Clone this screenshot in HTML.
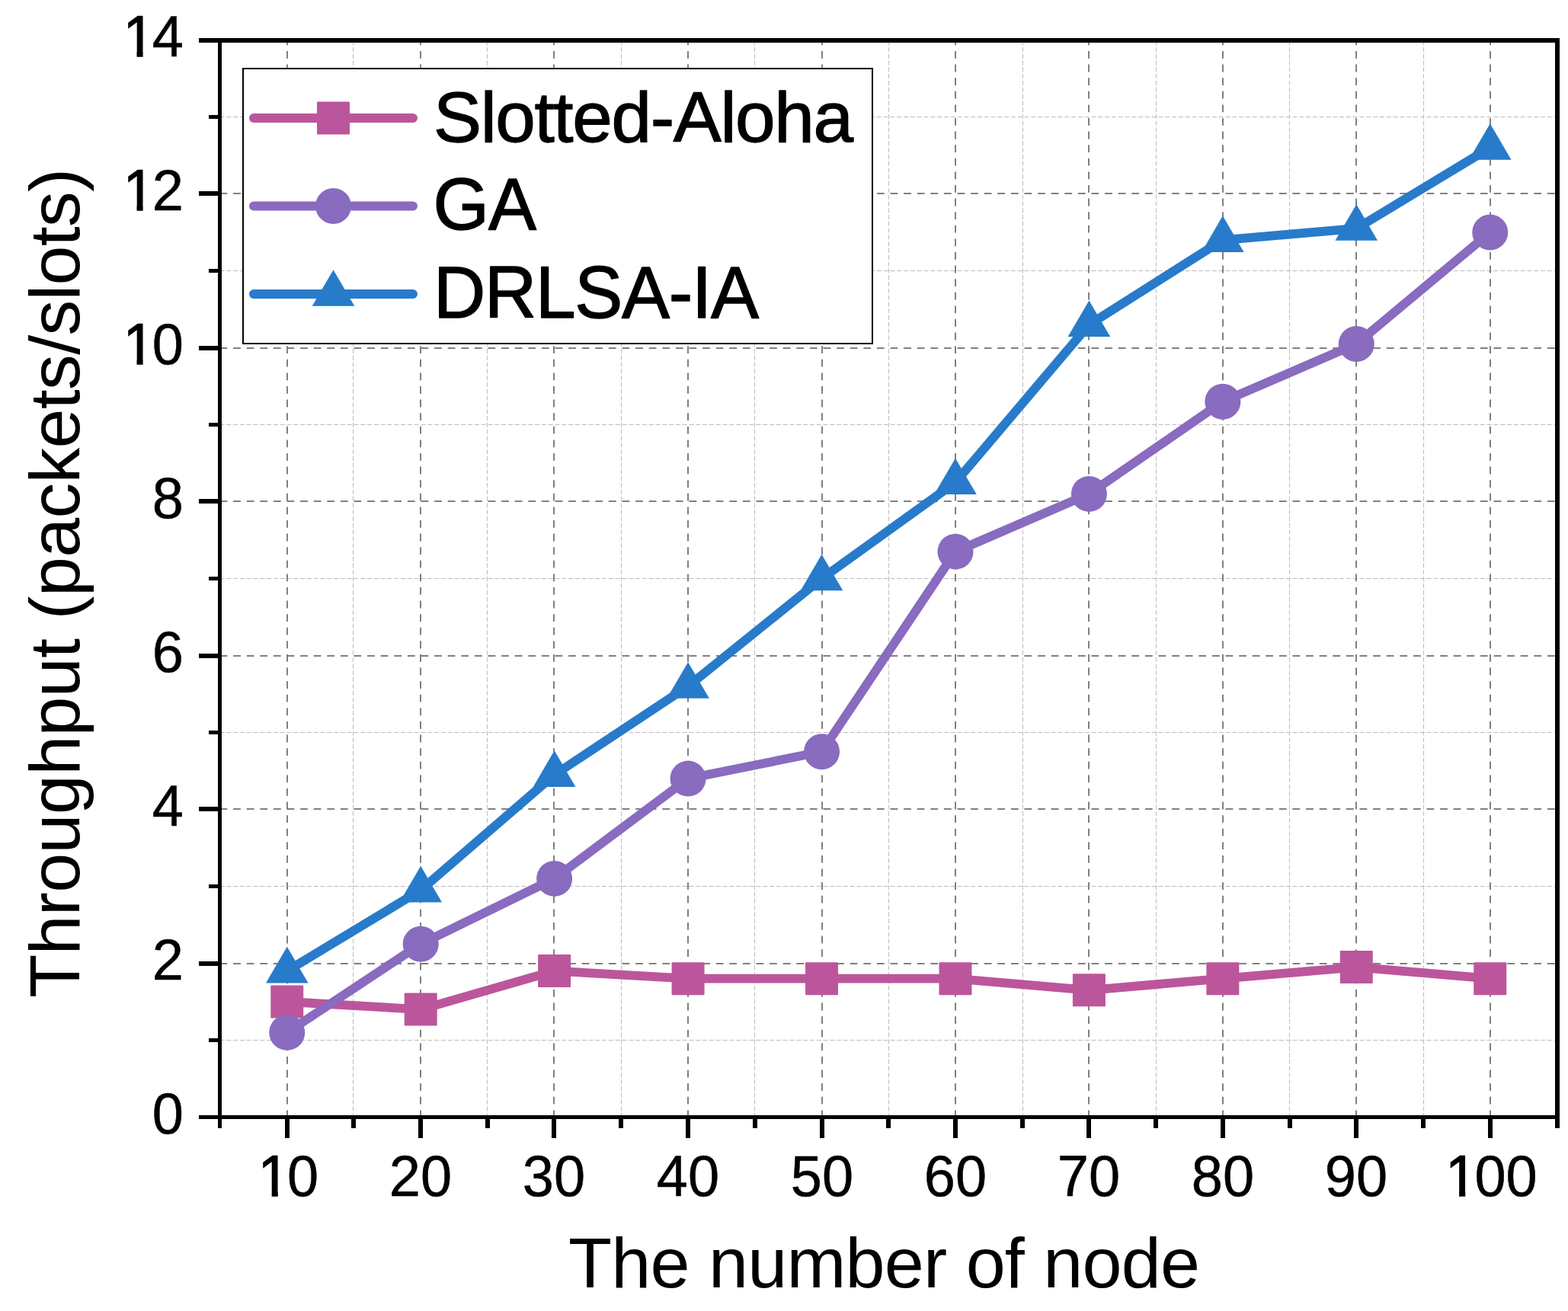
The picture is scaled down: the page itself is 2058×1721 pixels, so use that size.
<!DOCTYPE html>
<html><head><meta charset="utf-8"><title>Throughput vs. the number of node</title>
<style>
html,body{margin:0;padding:0;background:#fff;}
body{width:2058px;height:1721px;overflow:hidden;}
svg{display:block;}
</style></head><body>
<svg width="2058" height="1721" viewBox="0 0 2058 1721">
<rect x="0" y="0" width="2058" height="1721" fill="#fff"/>
<path d="M463.5 1467.2V56M639.5 1467.2V56M815.5 1467.2V56M990.5 1467.2V56M1166.5 1467.2V56M1342.5 1467.2V56M1517.5 1467.2V56M1692.5 1467.2V56M1868.5 1467.2V56" stroke="#BCBCBC" stroke-width="1" stroke-dasharray="6 2.8" fill="none"/>
<path d="M288.5 1365.5H2041M288.5 1163.5H2041M288.5 961.5H2041M288.5 759.5H2041M288.5 557.5H2041M288.5 355.5H2041M288.5 153.5H2041" stroke="#BCBCBC" stroke-width="1" stroke-dasharray="6 2.8" fill="none"/>
<path d="M377 1467.2V56M552 1467.2V56M727 1467.2V56M903 1467.2V56M1079 1467.2V56M1254 1467.2V56M1429 1467.2V56M1605 1467.2V56M1780 1467.2V56M1956 1467.2V56" stroke="#808080" stroke-width="2" stroke-dasharray="9.8 7.8" fill="none"/>
<path d="M288.5 1265H2041M288.5 1062H2041M288.5 861H2041M288.5 658H2041M288.5 457H2041M288.5 254H2041" stroke="#808080" stroke-width="2" stroke-dasharray="9.8 7.8" fill="none"/>
<polyline points="376.75,1315.00 552.19,1325.10 727.64,1274.60 903.08,1284.70 1078.53,1284.70 1253.97,1284.70 1429.41,1299.85 1604.86,1284.70 1780.30,1269.55 1955.75,1284.70" fill="none" stroke="#BC569C" stroke-width="11.8" stroke-linejoin="round" stroke-linecap="round"/>
<rect x="355.25" y="1293.50" width="43" height="43" rx="1.2" fill="#BC569C"/>
<rect x="530.69" y="1303.60" width="43" height="43" rx="1.2" fill="#BC569C"/>
<rect x="706.14" y="1253.10" width="43" height="43" rx="1.2" fill="#BC569C"/>
<rect x="881.58" y="1263.20" width="43" height="43" rx="1.2" fill="#BC569C"/>
<rect x="1057.03" y="1263.20" width="43" height="43" rx="1.2" fill="#BC569C"/>
<rect x="1232.47" y="1263.20" width="43" height="43" rx="1.2" fill="#BC569C"/>
<rect x="1407.91" y="1278.35" width="43" height="43" rx="1.2" fill="#BC569C"/>
<rect x="1583.36" y="1263.20" width="43" height="43" rx="1.2" fill="#BC569C"/>
<rect x="1758.80" y="1248.05" width="43" height="43" rx="1.2" fill="#BC569C"/>
<rect x="1934.25" y="1263.20" width="43" height="43" rx="1.2" fill="#BC569C"/>
<polyline points="376.75,1355.40 552.19,1239.25 727.64,1153.40 903.08,1022.10 1078.53,986.75 1253.97,724.15 1429.41,648.40 1604.86,527.20 1780.30,451.45 1955.75,305.00" fill="none" stroke="#896BBF" stroke-width="11.8" stroke-linejoin="round" stroke-linecap="round"/>
<circle cx="376.75" cy="1355.40" r="23.5" fill="#896BBF"/>
<circle cx="552.19" cy="1239.25" r="23.5" fill="#896BBF"/>
<circle cx="727.64" cy="1153.40" r="23.5" fill="#896BBF"/>
<circle cx="903.08" cy="1022.10" r="23.5" fill="#896BBF"/>
<circle cx="1078.53" cy="986.75" r="23.5" fill="#896BBF"/>
<circle cx="1253.97" cy="724.15" r="23.5" fill="#896BBF"/>
<circle cx="1429.41" cy="648.40" r="23.5" fill="#896BBF"/>
<circle cx="1604.86" cy="527.20" r="23.5" fill="#896BBF"/>
<circle cx="1780.30" cy="451.45" r="23.5" fill="#896BBF"/>
<circle cx="1955.75" cy="305.00" r="23.5" fill="#896BBF"/>
<polyline points="376.75,1274.60 552.19,1168.55 727.64,1017.05 903.08,900.90 1078.53,759.50 1253.97,633.25 1429.41,426.20 1604.86,315.10 1780.30,299.95 1955.75,193.90" fill="none" stroke="#287BCA" stroke-width="11.8" stroke-linejoin="round" stroke-linecap="round"/>
<path d="M376.75 1242.87L404.55 1290.47L348.95 1290.47Z" fill="#287BCA"/>
<path d="M552.19 1136.82L579.99 1184.42L524.39 1184.42Z" fill="#287BCA"/>
<path d="M727.64 985.32L755.44 1032.92L699.84 1032.92Z" fill="#287BCA"/>
<path d="M903.08 869.17L930.88 916.77L875.28 916.77Z" fill="#287BCA"/>
<path d="M1078.53 727.77L1106.33 775.37L1050.73 775.37Z" fill="#287BCA"/>
<path d="M1253.97 601.52L1281.77 649.12L1226.17 649.12Z" fill="#287BCA"/>
<path d="M1429.41 394.47L1457.21 442.07L1401.61 442.07Z" fill="#287BCA"/>
<path d="M1604.86 283.37L1632.66 330.97L1577.06 330.97Z" fill="#287BCA"/>
<path d="M1780.30 268.22L1808.10 315.82L1752.50 315.82Z" fill="#287BCA"/>
<path d="M1955.75 162.17L1983.55 209.77L1927.95 209.77Z" fill="#287BCA"/>
<rect x="319" y="90" width="826" height="361" fill="#fff" stroke="#000" stroke-width="2"/>
<line x1="333" y1="155.0" x2="542" y2="155.0" stroke="#BC569C" stroke-width="12" stroke-linecap="round"/>
<rect x="416.00" y="133.50" width="43" height="43" rx="1.2" fill="#BC569C"/>
<line x1="333" y1="270.5" x2="542" y2="270.5" stroke="#896BBF" stroke-width="12" stroke-linecap="round"/>
<circle cx="437.50" cy="270.50" r="23.5" fill="#896BBF"/>
<line x1="333" y1="385.9" x2="542" y2="385.9" stroke="#287BCA" stroke-width="12" stroke-linecap="round"/>
<path d="M437.50 354.17L465.30 401.77L409.70 401.77Z" fill="#287BCA"/>
<text transform="translate(569.00,186.30) scale(1,0.985)" x="0" y="0" font-family="'Liberation Sans', Arial, sans-serif" font-size="94.5" stroke="#000" stroke-width="1.3" stroke-linejoin="round" textLength="551.00" lengthAdjust="spacing">Slotted-Aloha</text>
<text transform="translate(568.60,301.10) scale(1,1.021)" x="0" y="0" font-family="'Liberation Sans', Arial, sans-serif" font-size="94.5" stroke="#000" stroke-width="1.4" stroke-linejoin="round" textLength="135.40" lengthAdjust="spacing">GA</text>
<text transform="translate(569.00,417.20) scale(1,1.024)" x="0" y="0" font-family="'Liberation Sans', Arial, sans-serif" font-size="94.5" stroke="#000" stroke-width="1.4" stroke-linejoin="round" textLength="427.00" lengthAdjust="spacing">DRLSA-IA</text>
<rect x="286" y="50" width="5" height="1431" fill="#000"/>
<rect x="2041" y="50" width="6" height="1431" fill="#000"/>
<rect x="261" y="50" width="1786" height="6" fill="#000"/>
<rect x="261" y="1464" width="1786" height="5" fill="#000"/>
<rect x="261" y="1262" width="25" height="6" fill="#000"/>
<rect x="261" y="1059" width="25" height="6" fill="#000"/>
<rect x="261" y="858" width="25" height="6" fill="#000"/>
<rect x="261" y="655" width="25" height="6" fill="#000"/>
<rect x="261" y="454" width="25" height="6" fill="#000"/>
<rect x="261" y="251" width="25" height="6" fill="#000"/>
<rect x="274" y="1363.0" width="12" height="5.0" fill="#000"/>
<rect x="274" y="1161.0" width="12" height="5.0" fill="#000"/>
<rect x="274" y="959.0" width="12" height="5.0" fill="#000"/>
<rect x="274" y="757.0" width="12" height="5.0" fill="#000"/>
<rect x="274" y="555.0" width="12" height="5.0" fill="#000"/>
<rect x="274" y="353.0" width="12" height="5.0" fill="#000"/>
<rect x="274" y="151.0" width="12" height="5.0" fill="#000"/>
<rect x="374" y="1469" width="6" height="25" fill="#000"/>
<rect x="549" y="1469" width="6" height="25" fill="#000"/>
<rect x="724" y="1469" width="6" height="25" fill="#000"/>
<rect x="900" y="1469" width="6" height="25" fill="#000"/>
<rect x="1076" y="1469" width="6" height="25" fill="#000"/>
<rect x="1251" y="1469" width="6" height="25" fill="#000"/>
<rect x="1426" y="1469" width="6" height="25" fill="#000"/>
<rect x="1602" y="1469" width="6" height="25" fill="#000"/>
<rect x="1777" y="1469" width="6" height="25" fill="#000"/>
<rect x="1953" y="1469" width="6" height="25" fill="#000"/>
<rect x="461" y="1469" width="6" height="12" fill="#000"/>
<rect x="637" y="1469" width="6" height="12" fill="#000"/>
<rect x="812" y="1469" width="6" height="12" fill="#000"/>
<rect x="988" y="1469" width="6" height="12" fill="#000"/>
<rect x="1163" y="1469" width="6" height="12" fill="#000"/>
<rect x="1339" y="1469" width="6" height="12" fill="#000"/>
<rect x="1514" y="1469" width="6" height="12" fill="#000"/>
<rect x="1690" y="1469" width="6" height="12" fill="#000"/>
<rect x="1865" y="1469" width="6" height="12" fill="#000"/>
<text transform="translate(199.84,1488.00) scale(1,1.035)" x="0" y="0" font-family="'Liberation Sans', Arial, sans-serif" font-size="74" stroke="#000" stroke-width="0.5">0</text>
<text transform="translate(199.84,1286.00) scale(1,1.035)" x="0" y="0" font-family="'Liberation Sans', Arial, sans-serif" font-size="74" stroke="#000" stroke-width="0.5">2</text>
<text transform="translate(199.84,1084.00) scale(1,1.035)" x="0" y="0" font-family="'Liberation Sans', Arial, sans-serif" font-size="74" stroke="#000" stroke-width="0.5">4</text>
<text transform="translate(199.84,882.00) scale(1,1.035)" x="0" y="0" font-family="'Liberation Sans', Arial, sans-serif" font-size="74" stroke="#000" stroke-width="0.5">6</text>
<text transform="translate(199.84,680.00) scale(1,1.035)" x="0" y="0" font-family="'Liberation Sans', Arial, sans-serif" font-size="74" stroke="#000" stroke-width="0.5">8</text>
<text transform="translate(158.69,478.00) scale(1,1.035)" x="0" y="0" font-family="'Liberation Sans', Arial, sans-serif" font-size="74" stroke="#000" stroke-width="0.5"><tspan dx="3.00" stroke="#000" stroke-width="1.3">1</tspan><tspan dx="-3.00">0</tspan></text><path d="M165.68 471.01H179.50V479.65H165.68ZM187.64 471.01H200.88V479.65H187.64Z" fill="#fff"/>
<text transform="translate(158.69,276.00) scale(1,1.035)" x="0" y="0" font-family="'Liberation Sans', Arial, sans-serif" font-size="74" stroke="#000" stroke-width="0.5"><tspan dx="3.00" stroke="#000" stroke-width="1.3">1</tspan><tspan dx="-3.00">2</tspan></text><path d="M165.68 269.01H179.50V277.65H165.68ZM187.64 269.01H200.88V277.65H187.64Z" fill="#fff"/>
<text transform="translate(158.69,74.00) scale(1,1.035)" x="0" y="0" font-family="'Liberation Sans', Arial, sans-serif" font-size="74" stroke="#000" stroke-width="0.5"><tspan dx="3.00" stroke="#000" stroke-width="1.3">1</tspan><tspan dx="-3.00">4</tspan></text><path d="M165.68 67.01H179.50V75.65H165.68ZM187.64 67.01H200.88V75.65H187.64Z" fill="#fff"/>
<text transform="translate(335.84,1570.00) scale(1,1.035)" x="0" y="0" font-family="'Liberation Sans', Arial, sans-serif" font-size="74" stroke="#000" stroke-width="0.5"><tspan dx="3.00" stroke="#000" stroke-width="1.3">1</tspan><tspan dx="-3.00">0</tspan></text><path d="M342.83 1563.01H356.65V1571.65H342.83ZM364.79 1563.01H378.04V1571.65H364.79Z" fill="#fff"/>
<text transform="translate(510.84,1570.00) scale(1,1.035)" x="0" y="0" font-family="'Liberation Sans', Arial, sans-serif" font-size="74" stroke="#000" stroke-width="0.5">20</text>
<text transform="translate(685.84,1570.00) scale(1,1.035)" x="0" y="0" font-family="'Liberation Sans', Arial, sans-serif" font-size="74" stroke="#000" stroke-width="0.5">30</text>
<text transform="translate(861.84,1570.00) scale(1,1.035)" x="0" y="0" font-family="'Liberation Sans', Arial, sans-serif" font-size="74" stroke="#000" stroke-width="0.5">40</text>
<text transform="translate(1037.84,1570.00) scale(1,1.035)" x="0" y="0" font-family="'Liberation Sans', Arial, sans-serif" font-size="74" stroke="#000" stroke-width="0.5">50</text>
<text transform="translate(1212.84,1570.00) scale(1,1.035)" x="0" y="0" font-family="'Liberation Sans', Arial, sans-serif" font-size="74" stroke="#000" stroke-width="0.5">60</text>
<text transform="translate(1387.84,1570.00) scale(1,1.035)" x="0" y="0" font-family="'Liberation Sans', Arial, sans-serif" font-size="74" stroke="#000" stroke-width="0.5">70</text>
<text transform="translate(1563.84,1570.00) scale(1,1.035)" x="0" y="0" font-family="'Liberation Sans', Arial, sans-serif" font-size="74" stroke="#000" stroke-width="0.5">80</text>
<text transform="translate(1738.84,1570.00) scale(1,1.035)" x="0" y="0" font-family="'Liberation Sans', Arial, sans-serif" font-size="74" stroke="#000" stroke-width="0.5">90</text>
<text transform="translate(1894.27,1570.00) scale(1,1.035)" x="0" y="0" font-family="'Liberation Sans', Arial, sans-serif" font-size="74" stroke="#000" stroke-width="0.5"><tspan dx="3.00" stroke="#000" stroke-width="1.3">1</tspan><tspan dx="-3.00">0</tspan>0</text><path d="M1901.25 1563.01H1915.08V1571.65H1901.25ZM1923.22 1563.01H1936.46V1571.65H1923.22Z" fill="#fff"/>
<text transform="translate(746.00,1690.00) scale(1,1.0)" x="0" y="0" font-family="'Liberation Sans', Arial, sans-serif" font-size="93.5" textLength="829.00" lengthAdjust="spacing">The number of node</text>
<text transform="translate(104.00,1309.80) rotate(-90) scale(1,1.0)" x="0" y="0" font-family="'Liberation Sans', Arial, sans-serif" font-size="93.5" textLength="1089.00" lengthAdjust="spacing">Throughput (packets/slots)</text>
</svg>
</body></html>
